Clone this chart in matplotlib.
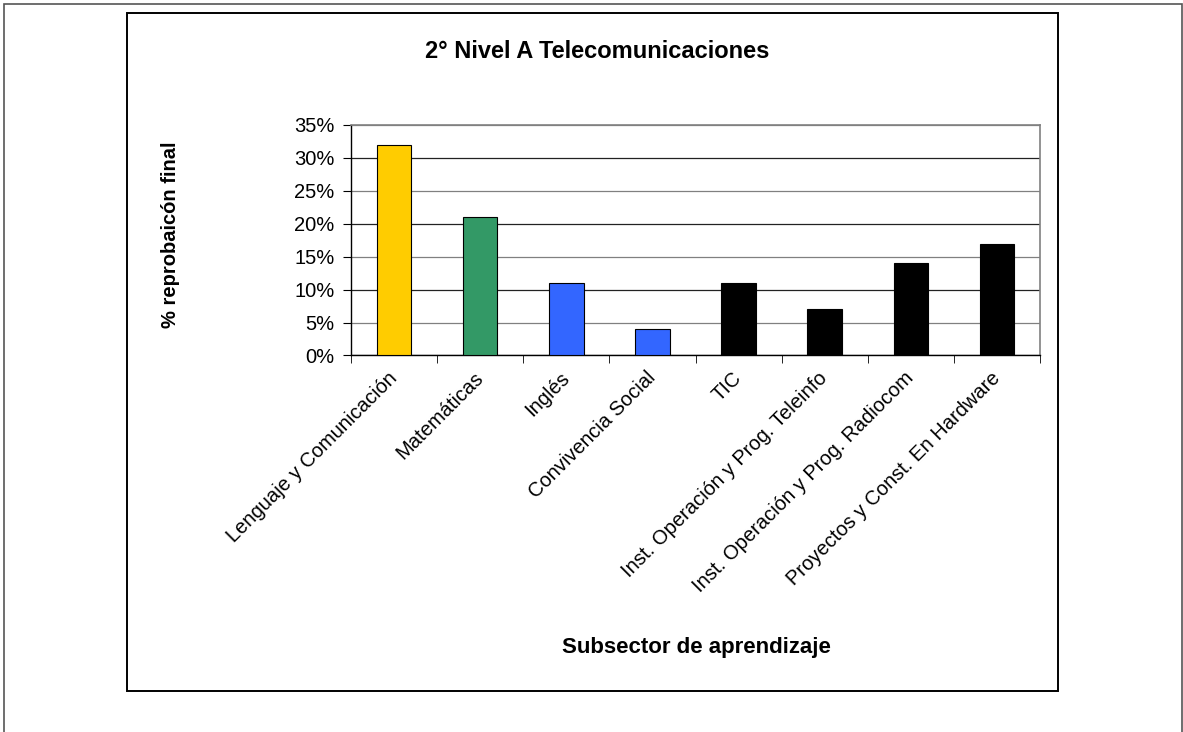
import matplotlib.pyplot as plt
from matplotlib.patches import Rectangle
from matplotlib.ticker import PercentFormatter
import numpy as np

plt.rcParams['font.family'] = ['Liberation Sans', 'DejaVu Sans']

categories = ['Lenguaje y Comunicación', 'Matemáticas', 'Inglés', 'Convivencia Social',
              'TIC', 'Inst. Operación y Prog. Teleinfo', 'Inst. Operación y Prog. Radiocom',
              'Proyectos y Const. En Hardware']
values = [32, 21, 11, 4, 11, 7, 14, 17]
colors = ['#FFCC00', '#339966', '#3366FF', '#3366FF', '#000000', '#000000', '#000000', '#000000']

W, H = 1183, 732
fig = plt.figure(figsize=(W / 100, H / 100), dpi=100)

# outer frame and chart frame
fig.patches.append(Rectangle((4 / W, -0.05), (1182 - 4) / W, 1.05 - 4 / H, transform=fig.transFigure,
                             fill=False, edgecolor='#555555', linewidth=1.2))
fig.patches.append(Rectangle((127 / W, 1 - 691 / H), (1058 - 127) / W, (691 - 13) / H,
                             transform=fig.transFigure, fill=False, edgecolor='black', linewidth=1.4))

ax = fig.add_axes([351 / W, 1 - 355.5 / H, 689 / W, 230.5 / H])
x = np.arange(len(categories))
ax.bar(x, values, width=0.4, color=colors, edgecolor='black', linewidth=0.8, zorder=3)

ax.set_xlim(-0.5, len(categories) - 0.5)
ax.set_ylim(0, 35)
ax.set_yticks(np.arange(0, 36, 5))
ax.yaxis.set_major_formatter(PercentFormatter(decimals=0))
ax.grid(axis='y', color='#333333', linewidth=0.9, zorder=0)
for i, gl in enumerate(ax.yaxis.get_gridlines()):
    gl.set_color('#222222' if i % 2 == 0 else '#808080')

ax.set_xticks(x)
ax.set_xticklabels(categories, rotation=45, ha='right', va='center', rotation_mode='anchor')
ax.set_xticks(np.arange(-0.5, len(categories)), minor=True)
ax.tick_params(axis='x', which='major', length=0, pad=14, labelsize=14.5)
ax.tick_params(axis='x', which='minor', length=6, direction='out', color='black')
ax.tick_params(axis='y', length=6, direction='out', pad=6, labelsize=14.5)

for side in ['top', 'right']:
    ax.spines[side].set_color('#808080')
    ax.spines[side].set_linewidth(1.2)
for side in ['left', 'bottom']:
    ax.spines[side].set_color('black')
    ax.spines[side].set_linewidth(1.0)

fig.text(597 / W, 1 - 52 / H, '2° Nivel A Telecomunicaciones', ha='center', va='center',
         fontsize=17, fontweight='bold')
fig.text(171 / W, 1 - 235 / H, '% reprobaicón final', ha='center', va='center', rotation=90,
         fontsize=14.5, fontweight='bold')
fig.text(696 / W, 1 - 648 / H, 'Subsector de aprendizaje', ha='center', va='center',
         fontsize=16, fontweight='bold')

fig.savefig('out.png', dpi=100, facecolor='white')
